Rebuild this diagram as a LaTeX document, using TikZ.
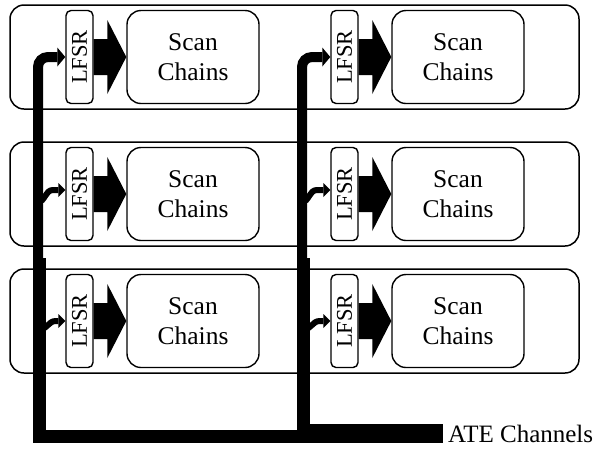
\documentclass[tikz,border=0pt]{standalone}
\usepackage{graphicx}
\usepackage{fontspec}
\setmainfont{Liberation Serif}
\usetikzlibrary{arrows.meta,calc}
\begin{document}
\begin{tikzpicture}[x=1pt,y=-1pt,
  rowbox/.style={draw, line width=1.5pt, rounded corners=14pt,
    minimum width=569pt, minimum height=104pt, inner sep=0pt},
  lfsrbox/.style={draw, line width=1.4pt, rounded corners=5pt,
    minimum width=27pt, minimum height=93pt, inner sep=0pt,
    font=\fontsize{22.5}{26}\selectfont},
  scanbox/.style={draw, line width=1.4pt, rounded corners=14pt,
    minimum width=132pt, minimum height=93pt, inner sep=0pt,
    align=center, font=\fontsize{25.5}{30.5}\selectfont},
  atelabel/.style={anchor=west, inner xsep=5pt, inner ysep=0pt, outer sep=0pt,
    font=\fontsize{25}{29}\selectfont},
  feed/.style={line width=10pt, rounded corners=10pt,
    -{Triangle[length=8pt,width=19pt,line width=0pt]}},
  spur/.style={line width=6pt,
    -{Triangle[length=7pt,width=14pt,line width=0pt]}},
  trunk/.style={line width=13pt},
]
\useasboundingbox (0,0) rectangle (596,448);

% three tiles, each with two LFSR -> scan chain pairs
\foreach \r/\yy in {1/57,2/194,3/321} {
  \node[rowbox] (row\r) at (294.5,\yy) {};
  \foreach \c/\dx in {a/0,b/265} {
    \node[lfsrbox] (l\r\c) at (79.5+\dx,\yy) {\rotatebox{90}{LFSR}};
    \node[scanbox] (s\r\c) at (193+\dx,\yy) {Scan\\Chains};
    % wide block arrow from the LFSR into its scan chains
    \fill ($(l\r\c.east)+(0,-18)$) -- ($(s\r\c.west)+(-19,-18)$)
      -- ($(s\r\c.west)+(-19,-37)$) -- (s\r\c.west)
      -- ($(s\r\c.west)+(-19,37)$) -- ($(s\r\c.west)+(-19,18)$)
      -- ($(l\r\c.east)+(0,18)$) -- cycle;
  }
}

% tester channels
\node[atelabel] (ate) at (443,434) {ATE Channels};

% lower trunks joining at the tester channels
\draw[trunk] (39.5,258) |- ($(ate.west)+(0,2.5)$);
\draw[trunk] (303.5,258) |- ($(ate.west)+(0,-4)$);

% upper trunks feeding the top tile
\draw[feed] (38,300) |- (l1a.west);
\draw[feed] (302,300) |- (l1b.west);

% taps into the middle and bottom tiles
\draw[spur] (38,202) .. controls (45,202) and (45,190) .. (53,190)
  -- ($(l2a.west)+(0,-4)$);
\draw[spur] (302,202) .. controls (309,202) and (309,190) .. (317,190)
  -- ($(l2b.west)+(0,-4)$);
\draw[spur] (40,329) .. controls (48,329) and (48,321) .. (56,321)
  -- (l3a.west);
\draw[spur] (304,329) .. controls (312,329) and (312,321) .. (320,321)
  -- (l3b.west);
\end{tikzpicture}
\end{document}
